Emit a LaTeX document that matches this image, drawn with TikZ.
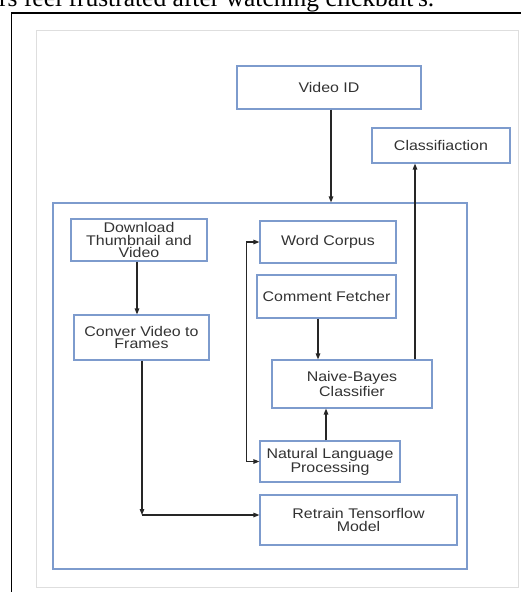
\documentclass[tikz,border=0pt]{standalone}
\usepackage{fontspec}
\usepackage{tikz}
\usetikzlibrary{arrows.meta}
\newfontfamily\boxfont[FakeStretch=1.14]{Liberation Sans}
\newfontfamily\capfont{Liberation Serif}
\definecolor{boxblue}{RGB}{125,155,205}
\definecolor{txtgray}{RGB}{50,50,50}
\definecolor{framegray}{RGB}{222,222,222}

\tikzset{
  block/.style = {draw=boxblue, line width=1.1pt, rectangle, inner sep=0pt,
                  align=center, text=txtgray,
                  font={\boxfont\fontsize{14}{12.5}\selectfont}},
  flow/.style  = {-{Triangle[length=6pt,width=4.5pt]}, line width=1.2pt, black!85}
}

\begin{document}
\begin{tikzpicture}[x=1pt, y=-1pt]
        \useasboundingbox (0,0) rectangle (521,592);
        % page around the figure
        \node[font = {\capfont\fontsize{25.5}{25.5}\selectfont}, anchor=base west, inner sep=0pt] (cap) at (-1, 6.5) {rs feel frustrated after watching clickbait's.};
        \draw[line width=1.4pt, black] (11.5,600) -- (11.5,13) -- (530,13);
        \draw[framegray, line width=1pt] (36,30) rectangle (518,587);

        % outer pipeline box
        \node[block, minimum width=414pt, minimum height=366pt] (pipe) at (260, 386) {};

        \node[block, minimum width=184pt, minimum height=43pt] (vid) at (329, 87.5) {Video ID};
        \node[block, minimum width=138pt, minimum height=35pt] (cls) at (441, 145.5) {Classifiaction};

        \node[block, minimum width=136pt, minimum height=42pt] (dl) at (139, 240) {Download\\Thumbnail and\\Video};
        \node[block, minimum width=135pt, minimum height=45pt] (conv) at (141.5, 337.5) {Conver Video to\\Frames};

        \node[block, minimum width=136pt, minimum height=42pt] (corpus) at (328, 242) {Word Corpus};
        \node[block, minimum width=139pt, minimum height=43pt] (fetch) at (326.5, 296.5) {Comment Fetcher};
        \node[block, minimum width=160pt, minimum height=48pt] (nb) at (352, 384) {Naive-Bayes\\Classifier};
        \node[block, minimum width=140pt, minimum height=41pt] (nlp) at (330, 461.5) {Natural Language\\Processing};
        \node[block, minimum width=197pt, minimum height=50pt] (rt) at (358.5, 520) {Retrain Tensorflow\\Model};

        \coordinate (bend) at (142, 515);

        % connectors
        \draw[flow] ([xshift=2pt]vid.south) -- ([xshift=2pt]vid.south |- pipe.north);
        \draw[flow] ([xshift=63pt]nb.north) -- ([xshift=63pt]nb.north |- cls.south);
        \draw[flow] ([xshift=-2pt]dl.south) -- ([xshift=-2pt]dl.south |- conv.north);
        \draw[flow] ([xshift=0.5pt]conv.south) -- (bend);
        \draw[flow] (bend) -- (bend -| rt.west);
        \draw[flow] ([xshift=-8.5pt]fetch.south) -- ([xshift=-8.5pt]fetch.south |- nb.north);
        \draw[flow] ([xshift=-4pt]nlp.north) -- ([xshift=-4pt]nlp.north |- nb.south);
        \draw[flow, {Triangle[length=6pt,width=4.5pt]}-{Triangle[length=6pt,width=4.5pt]}] (corpus.west) -- ++(-13,0) |- (nlp.west);
    \end{tikzpicture}
\end{document}
